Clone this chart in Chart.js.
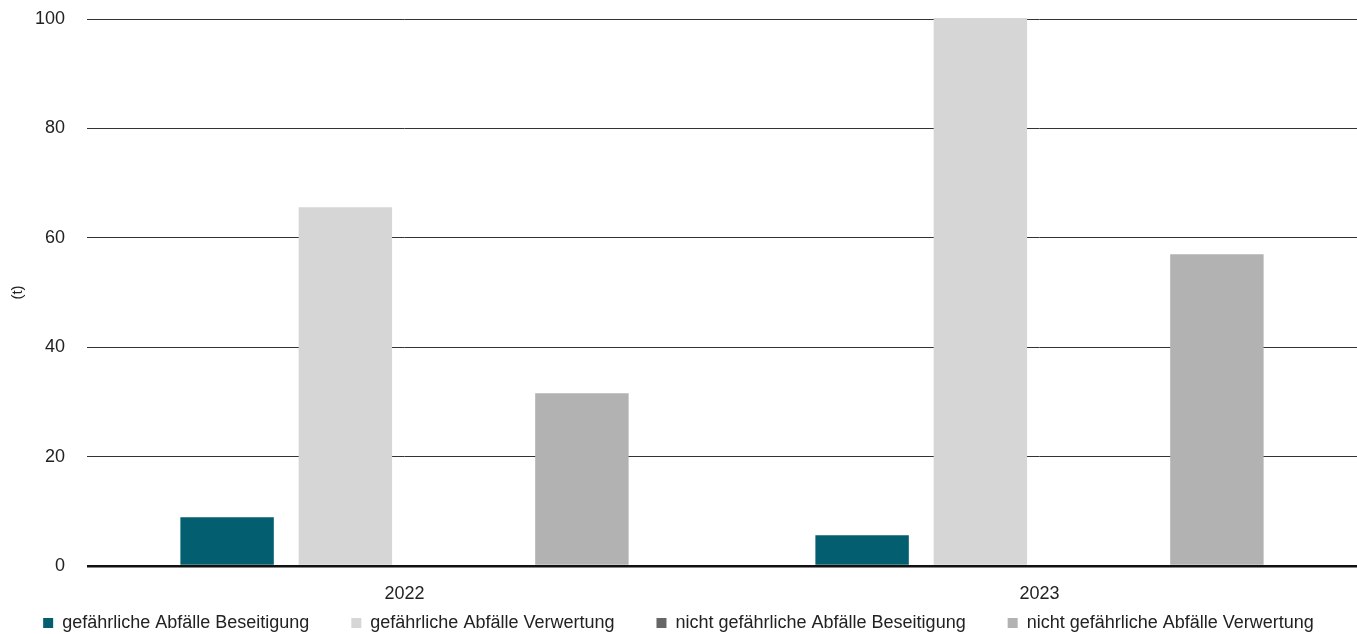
<!DOCTYPE html>
<html>
<head>
<meta charset="utf-8">
<script src="https://cdn.jsdelivr.net/npm/chart.js@4"></script>
<style>
  html, body { margin: 0; padding: 0; background: #fff; }
  #wrap { width: 1357px; height: 634px; position: relative; }
</style>
</head>
<body>
<div id="wrap"><canvas id="wasteChart"></canvas></div>
<script>
// waste volumes per year (t)
const years = ['2022', '2023'];
const hazardousDisposal = [8.9, 5.6];
const hazardousRecovery = [65.6, 100.2];
const nonHazardousDisposal = [0, 0];
const nonHazardousRecovery = [31.6, 57.0];
const yTicks = [0, 20, 40, 60, 80, 100];

const fontFamily = "'Liberation Sans', Arial, sans-serif";
const ctx = document.getElementById('wasteChart').getContext('2d');

const chart = new Chart(ctx, {
  type: 'bar',
  data: {
    labels: years,
    datasets: [
      { label: 'gefährliche Abfälle Beseitigung', data: hazardousDisposal, backgroundColor: '#035f6f' },
      { label: 'gefährliche Abfälle Verwertung', data: hazardousRecovery, backgroundColor: '#d6d6d6' },
      { label: 'nicht gefährliche Abfälle Beseitigung', data: nonHazardousDisposal, backgroundColor: '#666666' },
      { label: 'nicht gefährliche Abfälle Verwertung', data: nonHazardousRecovery, backgroundColor: '#b2b2b2' }
    ]
  },
  options: {
    responsive: true,
    maintainAspectRatio: false,
    animation: false,
    categoryPercentage: 0.745,
    barPercentage: 0.79,
    clip: false,
    layout: { padding: { top: 19, right: 0, left: 0, bottom: -8 } },
    plugins: {
      tooltip: { enabled: false },
      legend: {
        position: 'bottom',
        labels: {
          boxWidth: 10,
          boxHeight: 10,
          padding: 42,
          color: '#222',
          font: { family: fontFamily, size: 18 }
        }
      }
    },
    scales: {
      x: {
        grid: { display: false },
        border: { display: false },
        // mirrored labels are not clipped to the thin axis box, so they can sit above the legend
        ticks: { mirror: true, padding: -39, color: '#222', font: { family: fontFamily, size: 18 } },
        afterFit: scale => { scale.height = 6; }
      },
      y: {
        min: 0,
        max: 100,
        afterBuildTicks: axis => { axis.ticks = yTicks.map(v => ({ value: v })); },
        afterFit: scale => {
          scale.width = 87;
          scale.paddingTop = 0;
          scale.paddingBottom = 0;
        },
        border: { display: false },
        title: { display: true, text: '(t)', color: '#222', font: { family: fontFamily, size: 15 }, padding: { top: 9, bottom: 8 } },
        grid: {
          drawTicks: false,
          color: c => c.tick.value === 0 ? '#111' : '#333',
          lineWidth: c => c.tick.value === 0 ? 2.5 : 1
        },
        ticks: { color: '#222', padding: 22, font: { family: fontFamily, size: 18 } }
      }
    }
  }
});
</script>
</body>
</html>
